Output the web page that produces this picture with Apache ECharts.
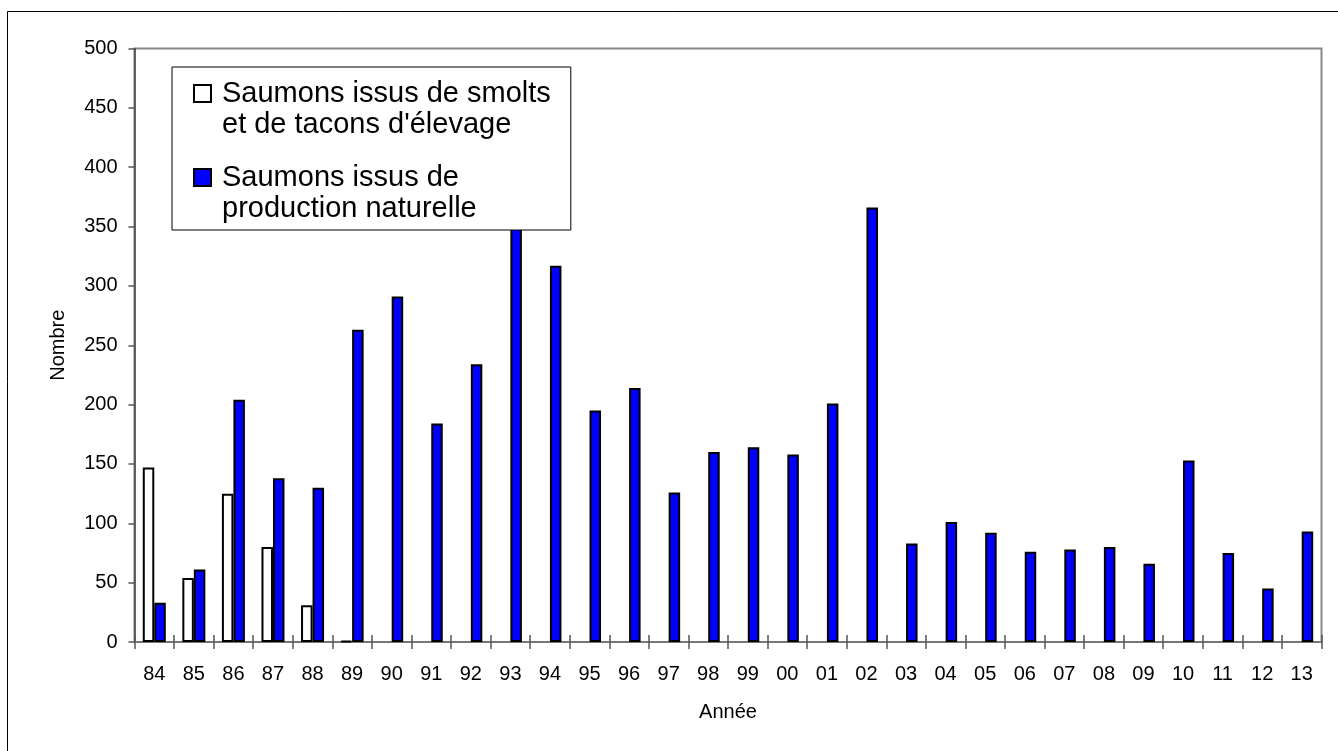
<!DOCTYPE html>
<html>
<head>
<meta charset="utf-8">
<script src="https://cdn.jsdelivr.net/npm/echarts@6/dist/echarts.min.js"></script>
<style>
html,body{margin:0;padding:0;background:#fff;}
#chart{width:1338px;height:751px;}
</style>
</head>
<body>
<div id="chart"></div>
<script>
const years = ['84','85','86','87','88','89','90','91','92','93','94','95','96','97','98','99','00','01','02','03','04','05','06','07','08','09','10','11','12','13'];
const elevage = [147, 54, 125, 80, 31, 1, null, null, null, null, null, null, null, null, null, null, null, null, null, null, null, null, null, null, null, null, null, null, null, null];
const naturelle = [33, 61, 204, 138, 130, 263, 291, 184, 234, 380, 317, 195, 214, 126, 160, 164, 158, 201, 366, 83, 101, 92, 76, 78, 80, 66, 153, 75, 45, 93];
const seriesNames = ["Saumons issus de smolts\net de tacons d'élevage", "Saumons issus de\nproduction naturelle"];
const yTicks = {min: 0, max: 500, interval: 50};

const chart = echarts.init(document.getElementById('chart'), null, {renderer: 'canvas'});
const font = 'Liberation Sans, Arial, sans-serif';
const iconPath = 'path://M0,0 M17,62 M0,7 L17,7 L17,24 L0,24 Z';

chart.setOption({
  animation: false,
  backgroundColor: '#fff',
  textStyle: {fontFamily: font, color: '#000'},
  graphic: [{
    type: 'rect', z: 0, silent: true,
    shape: {x: 7.5, y: 11.5, width: 1400, height: 800},
    style: {fill: 'none', stroke: '#000', lineWidth: 1}
  }],
  grid: {
    left: 134.5, top: 48.5, right: 16.5, bottom: 109,
    show: true, borderColor: '#888', borderWidth: 2, backgroundColor: 'transparent'
  },
  legend: {
    left: 172, top: 67, orient: 'vertical',
    selectedMode: false,
    backgroundColor: '#fff', borderColor: '#000', borderWidth: 1,
    padding: [10, 20, 5, 21],
    itemWidth: 17, itemHeight: 62, itemGap: 20,
    icon: iconPath,
    textStyle: {fontFamily: font, fontSize: 29, lineHeight: 31, color: '#000', padding: [0, 0, 0, 6]},
    data: seriesNames
  },
  xAxis: [{
    type: 'category', data: years, position: 'bottom',
    axisLine: {lineStyle: {color: '#777', width: 2}},
    axisTick: {show: true, length: 7, lineStyle: {color: '#555', width: 1.5}},
    axisLabel: {fontFamily: font, fontSize: 20, color: '#000', margin: 22},
    name: 'Année', nameLocation: 'middle', nameGap: 60,
    nameTextStyle: {fontFamily: font, fontSize: 20, color: '#000'}
  }, {
    type: 'category', data: years, position: 'bottom',
    axisLine: {show: false},
    axisTick: {show: true, inside: true, length: 7, lineStyle: {color: '#555', width: 1.5}},
    axisLabel: {show: false}
  }],
  yAxis: {
    type: 'value', min: yTicks.min, max: yTicks.max, interval: yTicks.interval,
    axisLine: {show: true, lineStyle: {color: '#444', width: 1.5}},
    axisTick: {show: true, length: 6, lineStyle: {color: '#555', width: 1.5}},
    splitLine: {show: false},
    axisLabel: {fontFamily: font, fontSize: 20, color: '#000', margin: 17},
    name: 'Nombre', nameLocation: 'middle', nameGap: 66, nameRotate: 90,
    nameTextStyle: {fontFamily: font, fontSize: 20, color: '#000'}
  },
  series: [{
    name: seriesNames[0], type: 'bar', data: elevage,
    barWidth: 11.5, barGap: '0%',
    itemStyle: {color: '#fff', borderColor: '#000', borderWidth: 2}
  }, {
    name: seriesNames[1], type: 'bar', data: naturelle,
    barWidth: 11.5, barGap: '0%',
    itemStyle: {color: '#0000ff', borderColor: '#000', borderWidth: 2}
  }]
});
</script>
</body>
</html>
